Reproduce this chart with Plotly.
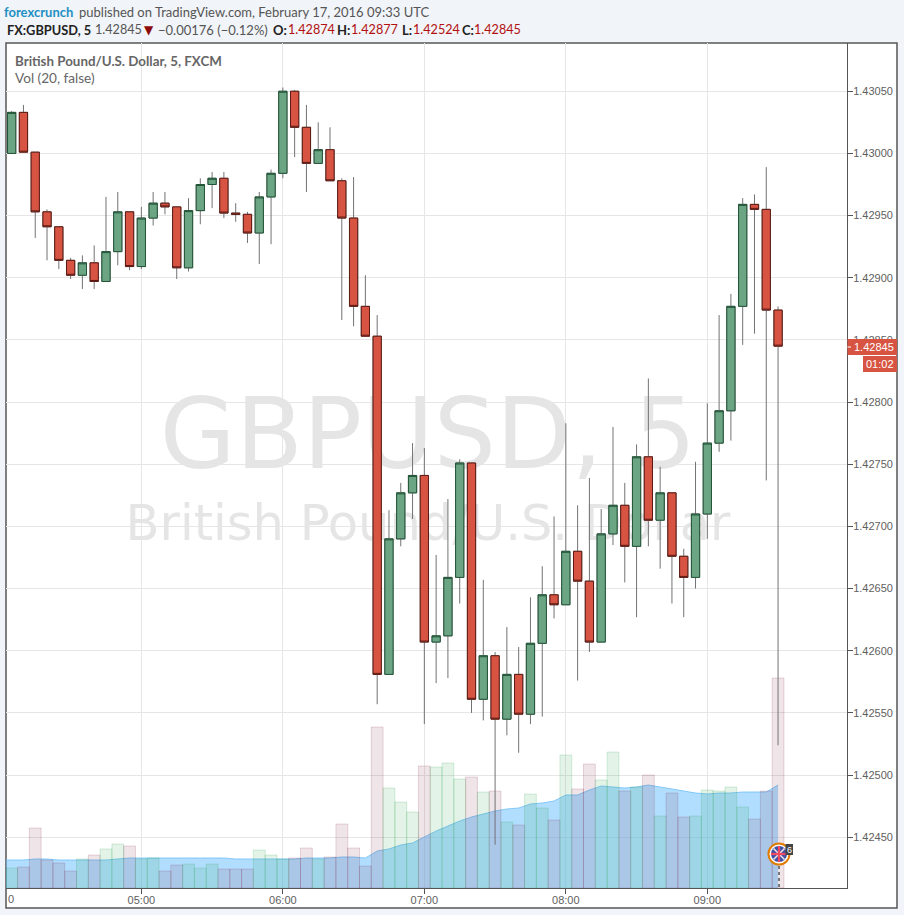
import plotly.graph_objects as go
import pandas as pd

W, H = 904, 915
L, R, T, B = 6, 847, 43, 888

opens = [1.43000,1.43033,1.43001,1.42953,1.42941,1.42914,1.42902,1.42912,1.42897,1.42921,1.42953,1.42909,1.42948,1.42960,1.42957,1.42908,1.42954,1.42975,1.42980,1.42952,1.42951,1.42936,1.42965,1.42984,1.43050,1.43021,1.42992,1.43003,1.42978,1.42948,1.42877,1.42853,1.42581,1.42690,1.42727,1.42741,1.42607,1.42612,1.42659,1.42751,1.42561,1.42596,1.42545,1.42581,1.42549,1.42606,1.42645,1.42637,1.42680,1.42656,1.42607,1.42694,1.42717,1.42684,1.42756,1.42705,1.42727,1.42676,1.42659,1.42710,1.42767,1.42793,1.42877,1.42959,1.42955,1.42874]
highs = [1.43034,1.43039,1.43001,1.42955,1.42941,1.42916,1.42918,1.42926,1.42965,1.42969,1.42953,1.42957,1.42969,1.42969,1.42957,1.42964,1.42980,1.42985,1.42985,1.42960,1.42953,1.42969,1.42987,1.43053,1.43051,1.43039,1.43025,1.43021,1.42980,1.42981,1.42902,1.42870,1.42713,1.42735,1.42767,1.42763,1.42677,1.42722,1.42754,1.42751,1.42657,1.42599,1.42619,1.42603,1.42643,1.42668,1.42708,1.42783,1.42717,1.42739,1.42714,1.42780,1.42735,1.42766,1.42819,1.42748,1.42727,1.42682,1.42752,1.42799,1.42870,1.42887,1.42964,1.42967,1.42989,1.42877]
lows = [1.43000,1.43001,1.42932,1.42914,1.42907,1.42899,1.42891,1.42891,1.42897,1.42910,1.42906,1.42907,1.42942,1.42951,1.42899,1.42905,1.42943,1.42956,1.42948,1.42945,1.42928,1.42911,1.42927,1.42980,1.42997,1.42969,1.42992,1.42978,1.42866,1.42861,1.42853,1.42557,1.42581,1.42684,1.42706,1.42541,1.42574,1.42578,1.42638,1.42550,1.42544,1.42444,1.42532,1.42518,1.42541,1.42547,1.42626,1.42637,1.42576,1.42599,1.42607,1.42685,1.42655,1.42627,1.42684,1.42666,1.42638,1.42627,1.42650,1.42690,1.42760,1.42769,1.42846,1.42855,1.42737,1.42524]
closes = [1.43033,1.43001,1.42953,1.42941,1.42914,1.42902,1.42912,1.42897,1.42921,1.42953,1.42909,1.42948,1.42960,1.42957,1.42908,1.42954,1.42975,1.42980,1.42952,1.42951,1.42936,1.42965,1.42984,1.43050,1.43021,1.42992,1.43003,1.42978,1.42948,1.42877,1.42853,1.42581,1.42690,1.42727,1.42741,1.42607,1.42612,1.42659,1.42751,1.42561,1.42596,1.42545,1.42581,1.42549,1.42606,1.42645,1.42637,1.42680,1.42656,1.42607,1.42694,1.42717,1.42684,1.42756,1.42705,1.42727,1.42676,1.42659,1.42710,1.42767,1.42793,1.42877,1.42959,1.42955,1.42874,1.42845]
volumes = [20,21,60,28,25,17,29,33,39,44,42,29,30,17,23,24,20,24,19,19,19,38,33,29,30,40,29,31,64,40,22,161,100,86,76,122,121,125,109,111,96,97,66,63,94,80,68,133,99,124,108,136,97,101,113,72,95,71,72,98,97,101,81,69,97,210]
vol_ma = [28,28,28,29,29,28,28,28,28,28,29,30,30,30,30,30,30,30,30,30,29,29,29,29,29,29,30,30,30,31,31,30,37,39,43,45,51,57,62,67,71,74,77,79,80,84,85,87,93,93,98,102,101,100,101,103,101,99,97,95,94,95,95,96,96,96,103]
price_ticks = [1.43050,1.43000,1.42950,1.42900,1.42850,1.42800,1.42750,1.42700,1.42650,1.42600,1.42550,1.42500,1.42450]
time_ticks = ["2016-02-17 05:00","2016-02-17 06:00","2016-02-17 07:00","2016-02-17 08:00","2016-02-17 09:00"]
time_labels = ["05:00","06:00","07:00","08:00","09:00"]

times = pd.date_range("2016-02-17 04:05", periods=len(closes), freq="5min")
ma_times = pd.date_range("2016-02-17 04:00", periods=len(vol_ma), freq="5min")

body_hi = [max(o, c) for o, c in zip(opens, closes)]
body_lo = [min(o, c) for o, c in zip(opens, closes)]

UP, DOWN = "#6ba583", "#d75442"
UP_B, DOWN_B = "#225437", "#5b1a13"
WICK = "#737375"
vol_fill = ["rgba(35,160,70,0.13)" if c >= o else "rgba(122,30,60,0.12)" for o, c in zip(opens, closes)]
vol_line = ["rgba(35,160,70,0.18)" if c >= o else "rgba(122,30,60,0.17)" for o, c in zip(opens, closes)]

fig = go.Figure()
fig.add_trace(go.Scatter(x=ma_times, y=vol_ma, yaxis="y", mode="lines", fill="tozeroy",
                         fillcolor="rgba(100,190,255,0.5)",
                         line=dict(color="rgba(110,190,245,0.8)", width=1), hoverinfo="skip"))
fig.add_trace(go.Bar(x=times, y=volumes, yaxis="y2", width=300000,
                     marker=dict(color=vol_fill, line=dict(color=vol_line, width=1)), hoverinfo="skip"))
fig.add_trace(go.Candlestick(x=times, open=opens, high=highs, low=lows, close=closes, yaxis="y3",
                             increasing=dict(line=dict(color=WICK, width=1), fillcolor=WICK),
                             decreasing=dict(line=dict(color=WICK, width=1), fillcolor=WICK),
                             whiskerwidth=0, hoverinfo="skip"))
fig.add_trace(go.Candlestick(x=times, open=opens, high=body_hi, low=body_lo, close=closes, yaxis="y3",
                             increasing=dict(line=dict(color=UP_B, width=1), fillcolor=UP),
                             decreasing=dict(line=dict(color=DOWN_B, width=1), fillcolor=DOWN),
                             whiskerwidth=0, hoverinfo="skip"))


def px(x):
    return (x - L) / (R - L)


def py(y):
    return (B - y) / (B - T)


def rect(x0, y0, x1, y1, fill, line=None, layer="above", lw=1, **kw):
    return dict(type="rect", xref="paper", yref="paper", x0=px(x0), x1=px(x1), y0=py(y0), y1=py(y1),
                fillcolor=fill, line=dict(color=line or fill, width=lw if line else 0), layer=layer, **kw)


def circ(cx, cy, r, fill, line=None, lw=0):
    return dict(type="circle", xref="paper", yref="paper", x0=px(cx - r), x1=px(cx + r), y0=py(cy - r), y1=py(cy + r),
                fillcolor=fill, line=dict(color=line or fill, width=lw), layer="above")


def seg(x0, y0, x1, y1, color, lw=1, dash="solid"):
    return dict(type="line", xref="paper", yref="paper", x0=px(x0), x1=px(x1), y0=py(y0), y1=py(y1),
                line=dict(color=color, width=lw, dash=dash), layer="above")


WM = "#e5e5e5"
shapes = [
    rect(6, 43, 897, 908, "white", "#555555", layer="below", lw=1.5),
    dict(type="rect", xref="paper", yref="paper", x0=px(102), x1=px(754), y0=py(487), y1=py(367),
         line=dict(width=0), fillcolor="rgba(0,0,0,0)", layer="below",
         label=dict(text="GBPUSD, 5", textposition="middle center",
                    font=dict(family="DejaVu Sans", size=98, color=WM))),
    dict(type="rect", xref="paper", yref="paper", x0=px(100), x1=px(756), y0=py(547), y1=py(491),
         line=dict(width=0), fillcolor="rgba(0,0,0,0)", layer="below",
         label=dict(text="British Pound/U.S. Dollar", textposition="middle center",
                    font=dict(family="DejaVu Sans", size=49.5, color=WM))),
    rect(847.5, 339, 897, 355, DOWN),
    rect(863, 356, 897, 372, DOWN),
    seg(847.5, 347, 851, 347, "white"),
    seg(779, 866, 779, 888, "#777777", lw=2, dash="dot"),
    circ(779, 854, 10.5, "white", "#e07c00", 2),
    circ(779, 854, 8, "#3f51a5"),
    seg(773.5, 848.5, 784.5, 859.5, "#f2dfe3", 1.6),
    seg(773.5, 859.5, 784.5, 848.5, "#f2dfe3", 1.6),
    seg(771, 854, 787, 854, "#ef4a62", 2.2),
    seg(779, 846, 779, 862, "#ef4a62", 2.2),
    rect(785.5, 844, 793, 855, "#444444"),
]

annotations = []


def text(x, y, s, size, color, family="Lato", anchor="left"):
    annotations.append(dict(xref="paper", yref="paper", x=px(x), y=py(y), text=s, showarrow=False,
                            xanchor=anchor, yanchor="middle", borderpad=0,
                            font=dict(family=family, size=size, color=color)))


DARK = "#555555"
RED = "#b21010"
BLK = "#222222"
text(3, 11.5, "<b>forexcrunch</b>", 13, "#1f8fc4")
text(78, 11.5, "published on TradingView.com, February 17, 2016 09:33 UTC", 13, DARK)
text(6, 29.5, "<b>FX:GBPUSD, 5</b>", 12.8, BLK)
text(94, 29.5, "1.42845", 12.6, DARK)
text(143, 29.5, "▼", 12, "#8c0a0a", family="DejaVu Sans")
text(157, 29.5, "−0.00176 (−0.12%)", 13, DARK)
for x, s in [(272, "O:"), (336, "H:"), (401, "L:"), (461, "C:")]:
    text(x, 29.5, f"<b>{s}</b>", 13, BLK)
for x, s in [(287, "1.42874"), (350, "1.42877"), (412, "1.42524"), (473, "1.42845")]:
    text(x, 29.5, s, 12.6, RED)
text(14, 60.5, "<b>British Pound/U.S. Dollar, 5, FXCM</b>", 13.35, "#666666")
text(14, 77.5, "Vol (20, false)", 13.6, "#666666")
text(7, 899, "0", 11, "#606060", family="Liberation Sans")
text(873.5, 347, "1.42845", 11, "white", family="Liberation Sans", anchor="center")
text(880, 364, "01:02", 11, "white", family="Liberation Sans", anchor="center")
text(789.3, 849.5, "6", 9, "white", family="Liberation Sans", anchor="center")

fig.update_layout(
    width=W, height=H, autosize=False,
    margin=dict(l=L, r=W - R, t=T, b=H - B, pad=0),
    paper_bgcolor="#f1f4f8", plot_bgcolor="white",
    showlegend=False, bargap=0, hovermode=False, boxgap=0.3, boxgroupgap=0,
    xaxis=dict(type="date", range=["2016-02-17 04:02:36", "2016-02-17 09:59:14"],
               rangeslider=dict(visible=False), tickvals=time_ticks, ticktext=time_labels,
               showgrid=True, gridcolor="#e6e6e6", gridwidth=1, ticks="outside", ticklen=5, tickcolor="#555555",
               showline=True, linecolor="#555555", linewidth=1, zeroline=False, ticklabelstandoff=-3,
               tickfont=dict(family="Liberation Sans", size=11, color="#606060")),
    yaxis=dict(range=[0, B - T], visible=False, fixedrange=True),
    yaxis2=dict(overlaying="y", range=[0, B - T], visible=False, fixedrange=True),
    yaxis3=dict(overlaying="y", side="right", range=[1.424092, 1.430888], tickvals=price_ticks,
                ticktext=[f"{p:.5f}" for p in price_ticks],
                showgrid=True, gridcolor="#e6e6e6", gridwidth=1, ticks="outside", ticklen=5, tickcolor="#555555",
                showline=True, linecolor="#555555", linewidth=1, zeroline=False, ticklabelstandoff=-2,
                tickfont=dict(family="Liberation Sans", size=11, color="#606060")),
    shapes=shapes, annotations=annotations,
)

fig.write_html("out.html", config=dict(displayModeBar=False, staticPlot=True),
               post_script="document.body.style.margin='0';document.body.style.overflow='hidden';")
